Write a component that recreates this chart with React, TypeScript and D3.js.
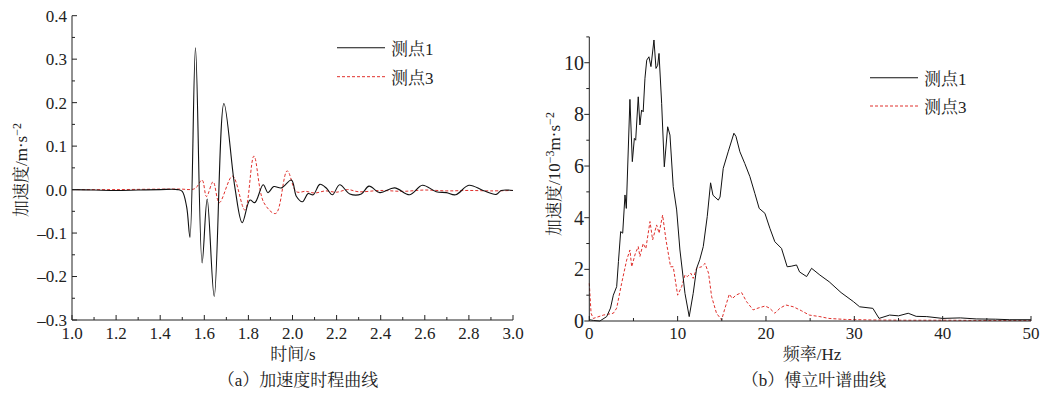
import React from "react";
import * as d3 from "d3";

// ---------- Data ----------
const timeP1 = [1.0, 1.1, 1.2, 1.3, 1.4, 1.48, 1.5, 1.52, 1.535, 1.56, 1.59, 1.613, 1.645, 1.689, 1.739, 1.772, 1.807, 1.829, 1.867, 1.889, 1.915, 1.95, 1.995, 2.018, 2.045, 2.071, 2.094, 2.124, 2.154, 2.181, 2.214, 2.26, 2.312, 2.347, 2.396, 2.463, 2.532, 2.589, 2.652, 2.698, 2.74, 2.8, 2.864, 2.924, 2.947, 3.0];
const accP1 = [0, -0.001, -0.002, -0.001, 0, 0, -0.004, -0.04, -0.11, 0.326, -0.169, -0.022, -0.246, 0.198, 0.004, -0.076, -0.024, -0.03, 0.011, -0.007, 0.007, 0.004, 0.022, -0.016, -0.028, -0.009, -0.012, 0.012, 0.003, -0.012, 0.011, -0.01, -0.01, 0.008, -0.007, 0.004, -0.012, 0.01, -0.005, -0.007, -0.012, 0.01, -0.002, -0.011, -0.002, -0.002];

const timeP3 = [1.0, 1.2, 1.4, 1.5, 1.535, 1.56, 1.59, 1.61, 1.64, 1.668, 1.728, 1.784, 1.825, 1.87, 1.924, 1.976, 2.018, 2.06, 2.1, 2.15, 2.2, 2.25, 2.3, 2.4, 2.5, 2.6, 2.7, 2.8, 2.9, 3.0];
const accP3 = [0, 0, 0.001, 0.001, 0, 0.003, 0.022, -0.016, 0.018, -0.03, 0.031, -0.047, 0.077, -0.03, -0.055, 0.043, -0.005, -0.004, -0.008, -0.003, -0.006, 0, -0.005, -0.002, -0.004, -0.001, -0.003, -0.002, -0.003, -0.002];

const freqP1 = [0, 0.5, 1.2, 1.97, 2.4, 2.72, 3.1, 3.3, 3.55, 3.78, 4.04, 4.19, 4.6, 4.87, 5.1, 5.25, 5.54, 5.73, 5.92, 6.1, 6.3, 6.5, 6.75, 6.98, 7.32, 7.55, 7.74, 7.89, 8.19, 8.49, 8.87, 9.13, 9.5, 9.89, 10.26, 10.83, 11.31, 11.76, 12.15, 12.5, 12.9, 13.35, 13.73, 14.0, 14.6, 14.8, 15.16, 15.72, 16.37, 16.6, 17.05, 17.6, 18.18, 18.74, 19.23, 19.88, 20.44, 21.0, 21.76, 22.4, 22.85, 23.46, 23.8, 24.6, 25.16, 26.1, 27.15, 28.5, 29.9, 30.6, 32.1, 32.8, 34.0, 35.0, 36.1, 37.0, 38.2, 40.0, 42.0, 43.8, 46.0, 47.6, 50.0];
const ampP1 = [0.05, 0.02, 0.0, 0.17, 0.5, 1.0, 1.33, 2.3, 3.46, 3.4, 4.88, 4.36, 8.58, 6.17, 7.07, 7.0, 8.68, 7.59, 8.17, 8.1, 9.4, 10.1, 10.23, 9.85, 10.88, 9.78, 9.9, 10.36, 8.43, 5.97, 7.52, 7.2, 5.2, 4.3, 2.75, 1.07, 0.17, 1.07, 2.04, 2.37, 2.88, 4.04, 5.35, 4.87, 4.68, 4.8, 5.91, 6.55, 7.27, 7.15, 6.55, 6.1, 5.59, 4.94, 4.36, 4.17, 3.59, 3.07, 2.81, 2.1, 2.12, 2.17, 1.9, 1.72, 2.04, 1.78, 1.52, 1.1, 0.75, 0.55, 0.49, 0.1, 0.23, 0.2, 0.3, 0.18, 0.17, 0.1, 0.12, 0.08, 0.07, 0.05, 0.05];

const freqP3 = [0, 0.2, 0.45, 1.6, 2.72, 3.1, 3.66, 4.23, 4.6, 4.8, 5.2, 5.54, 5.73, 6.1, 6.4, 6.87, 7.17, 7.62, 7.9, 8.3, 8.68, 9.2, 9.5, 10.0, 10.45, 10.83, 11.1, 11.5, 11.76, 12.15, 12.7, 13.1, 13.5, 13.85, 14.4, 14.98, 15.3, 15.85, 16.2, 16.6, 17.24, 17.8, 18.55, 19.1, 19.9, 20.4, 21.0, 21.6, 22.25, 23.1, 24.0, 24.9, 26.1, 27.1, 29.0, 32.0, 36.0, 40.0, 45.0, 50.0];
const ampP3 = [1.46, 0.3, 0.1, 0.23, 0.3, 0.5, 1.46, 2.36, 2.75, 2.1, 2.6, 2.88, 2.5, 3.0, 2.8, 3.85, 3.14, 3.72, 3.4, 4.1, 3.14, 2.1, 2.1, 1.0, 1.33, 1.78, 1.72, 1.85, 1.65, 2.04, 2.1, 2.23, 1.85, 0.94, 0.3, 0.04, 0.43, 1.04, 0.87, 1.0, 1.1, 0.75, 0.43, 0.5, 0.58, 0.5, 0.3, 0.5, 0.62, 0.55, 0.4, 0.23, 0.17, 0.1, 0.06, 0.04, 0.03, 0.03, 0.02, 0.02];

const leftXTicks = [1.0, 1.2, 1.4, 1.6, 1.8, 2.0, 2.2, 2.4, 2.6, 2.8, 3.0];
const leftYTicks = [-0.3, -0.2, -0.1, 0.0, 0.1, 0.2, 0.3, 0.4];
const rightXTicks = [0, 10, 20, 30, 40, 50];
const rightYTicks = [0, 2, 4, 6, 8, 10];
const seriesNames = ["测点1", "测点3"];

const FONT = "'Liberation Serif', 'Times New Roman', serif";
const CJK = "'Liberation Serif', 'Noto Serif CJK SC', 'Noto Sans CJK SC', serif";
const RED = "#e0302c";

export default function App() {
  const lx = d3.scaleLinear().domain([1.0, 3.0]).range([72, 513]);
  const ly = d3.scaleLinear().domain([-0.3, 0.4]).range([320, 15.7]);
  const rx = d3.scaleLinear().domain([0, 50]).range([589.3, 1031]);
  const ry = d3.scaleLinear().domain([0, 11]).range([321, 36.9]);

  const pathL1 = d3.line<number>().x((_, i) => lx(timeP1[i])).y((d) => ly(d)).curve(d3.curveCatmullRom.alpha(0.5))(accP1) || "";
  const pathL3 = d3.line<number>().x((_, i) => lx(timeP3[i])).y((d) => ly(d)).curve(d3.curveCatmullRom.alpha(0.5))(accP3) || "";
  const pathR1 = d3.line<number>().x((_, i) => rx(freqP1[i])).y((d) => ry(d)).curve(d3.curveLinear)(ampP1) || "";
  const pathR3 = d3.line<number>().x((_, i) => rx(freqP3[i])).y((d) => ry(d)).curve(d3.curveLinear)(ampP3) || "";

  const leftMinorX = d3.range(1.1, 3.0, 0.2);
  const leftMinorY = d3.range(-0.25, 0.4, 0.1);
  const rightMinorX = d3.range(5, 50, 10);
  const rightMinorY = [1, 3, 5, 7, 9, 11];

  const fmtMinus = (v: number) => (v < 0 ? "–" + Math.abs(v).toFixed(1) : v.toFixed(1));

  return (
    <svg width={1058} height={397} style={{ position: "absolute", left: 0, top: 0, background: "#fff", fontFamily: FONT }}>
      {/* ---------- Left chart ---------- */}
      <g>
        <path d={pathL3} fill="none" stroke={RED} strokeWidth={1} strokeDasharray="3,2" />
        <path d={pathL1} fill="none" stroke="#111" strokeWidth={1.1} />
        <line x1={lx(1.0)} x2={lx(1.0)} y1={ly(-0.3)} y2={ly(0.4)} stroke="#222" strokeWidth={1} />
        <line x1={lx(1.0)} x2={lx(3.0)} y1={ly(-0.3)} y2={ly(-0.3)} stroke="#222" strokeWidth={1} />
        {leftXTicks.map((t) => (
          <g key={"lxt" + t}>
            <line x1={lx(t)} x2={lx(t)} y1={ly(-0.3)} y2={ly(-0.3) - 5} stroke="#222" />
            <text x={lx(t)} y={339} fontSize={17} textAnchor="middle" fill="#222">{t.toFixed(1)}</text>
          </g>
        ))}
        {leftMinorX.map((t) => (
          <line key={"lxm" + t} x1={lx(t)} x2={lx(t)} y1={ly(-0.3)} y2={ly(-0.3) - 3} stroke="#222" />
        ))}
        {leftYTicks.map((v) => (
          <g key={"lyt" + v}>
            <line x1={lx(1.0)} x2={lx(1.0) + 5} y1={ly(v)} y2={ly(v)} stroke="#222" />
            <text x={67} y={ly(v)} dy="0.35em" fontSize={17} textAnchor="end" fill="#222">{fmtMinus(v)}</text>
          </g>
        ))}
        {leftMinorY.map((v) => (
          <line key={"lym" + v} x1={lx(1.0)} x2={lx(1.0) + 3} y1={ly(v)} y2={ly(v)} stroke="#222" />
        ))}
        <text transform="translate(27,170) rotate(-90)" fontSize={17} textAnchor="middle" fill="#222" style={{ fontFamily: CJK }}>
          加速度/m·s<tspan dy={-6} fontSize={12}>−2</tspan>
        </text>
        <text x={293} y={360} fontSize={17} textAnchor="middle" fill="#222" style={{ fontFamily: CJK }}>时间/s</text>
        <text x={298} y={386} fontSize={17} textAnchor="middle" fill="#222" style={{ fontFamily: CJK }}>（a）加速度时程曲线</text>
        <line x1={337} x2={385} y1={47.7} y2={47.7} stroke="#111" strokeWidth={1.1} />
        <text x={391} y={49} dominantBaseline="central" fontSize={17} fill="#222" style={{ fontFamily: CJK }}>{seriesNames[0]}</text>
        <line x1={337} x2={385} y1={76.7} y2={76.7} stroke={RED} strokeWidth={1} strokeDasharray="3,2" />
        <text x={391} y={78} dominantBaseline="central" fontSize={17} fill="#222" style={{ fontFamily: CJK }}>{seriesNames[1]}</text>
      </g>

      {/* ---------- Right chart ---------- */}
      <g>
        <path d={pathR3} fill="none" stroke={RED} strokeWidth={1} strokeDasharray="3,2" />
        <path d={pathR1} fill="none" stroke="#111" strokeWidth={1} />
        <line x1={rx(0)} x2={rx(0)} y1={ry(0)} y2={ry(11)} stroke="#222" strokeWidth={1} />
        <line x1={rx(0)} x2={rx(50)} y1={ry(0)} y2={ry(0)} stroke="#222" strokeWidth={1} />
        {rightXTicks.map((t) => (
          <g key={"rxt" + t}>
            <line x1={rx(t)} x2={rx(t)} y1={ry(0)} y2={ry(0) - 5} stroke="#222" />
            <text x={rx(t)} y={339} fontSize={17} textAnchor="middle" fill="#222">{t}</text>
          </g>
        ))}
        {rightMinorX.map((t) => (
          <line key={"rxm" + t} x1={rx(t)} x2={rx(t)} y1={ry(0)} y2={ry(0) - 3} stroke="#222" />
        ))}
        {rightYTicks.map((v) => (
          <g key={"ryt" + v}>
            <line x1={rx(0)} x2={rx(0) - 5} y1={ry(v)} y2={ry(v)} stroke="#222" />
            <text x={584} y={ry(v)} dy="0.35em" fontSize={20} textAnchor="end" fill="#222">{v}</text>
          </g>
        ))}
        {rightMinorY.map((v) => (
          <line key={"rym" + v} x1={rx(0)} x2={rx(0) - 3} y1={ry(v)} y2={ry(v)} stroke="#222" />
        ))}
        <text transform="translate(560,174) rotate(-90)" fontSize={17} textAnchor="middle" fill="#222" style={{ fontFamily: CJK }}>
          加速度/10<tspan dy={-6} fontSize={12}>−3</tspan><tspan dy={6}>m·s</tspan><tspan dy={-6} fontSize={12}>−2</tspan>
        </text>
        <text x={812} y={360} fontSize={17} textAnchor="middle" fill="#222" style={{ fontFamily: CJK }}>频率/Hz</text>
        <text x={814} y={386} fontSize={17} textAnchor="middle" fill="#222" style={{ fontFamily: CJK }}>（b）傅立叶谱曲线</text>
        <line x1={870} x2={918} y1={77.7} y2={77.7} stroke="#111" strokeWidth={1.1} />
        <text x={924} y={79} dominantBaseline="central" fontSize={17} fill="#222" style={{ fontFamily: CJK }}>{seriesNames[0]}</text>
        <line x1={870} x2={918} y1={106} y2={106} stroke={RED} strokeWidth={1} strokeDasharray="3,2" />
        <text x={924} y={107} dominantBaseline="central" fontSize={17} fill="#222" style={{ fontFamily: CJK }}>{seriesNames[1]}</text>
      </g>
    </svg>
  );
}
